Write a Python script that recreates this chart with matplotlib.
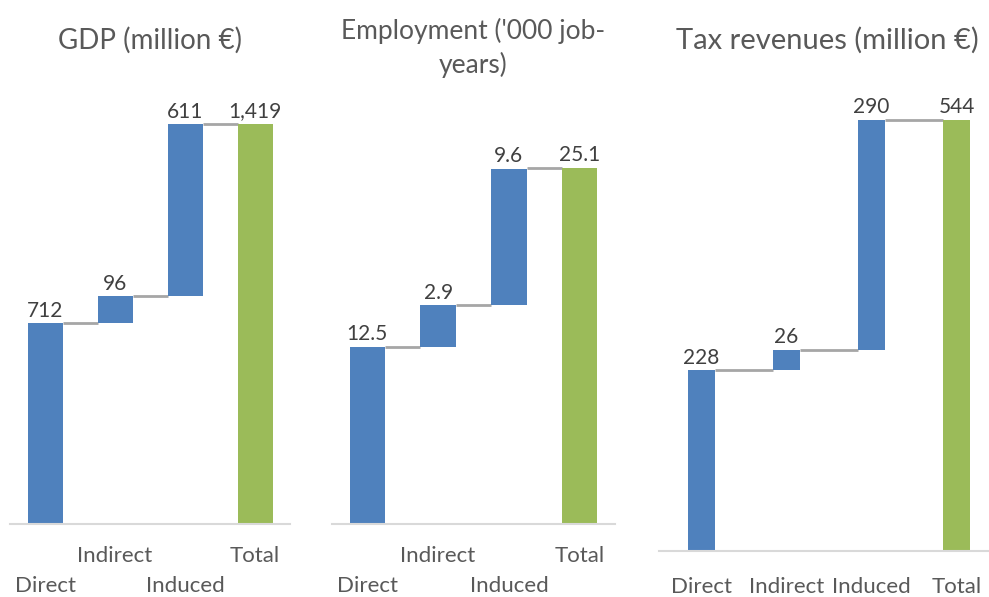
import matplotlib.pyplot as plt
import numpy as np

plt.rcParams['font.family'] = ['Lato', 'DejaVu Sans']

# values
steps = ['Direct', 'Indirect', 'Induced', 'Total']
gdp = [712, 96, 611, 1419]
gdp_lbl = ['712', '96', '611', '1,419']
emp = [12.5, 2.9, 9.6, 25.1]
emp_lbl = ['12.5', '2.9', '9.6', '25.1']
tax = [228, 26, 290, 544]
tax_lbl = ['228', '26', '290', '544']

W, H = 989, 597
fig = plt.figure(figsize=(W / 100, H / 100), dpi=100)

blue = '#4f81bd'
green = '#9bbb59'
grey_line = '#a6a6a6'
txt = '#404040'
ttl = '#595959'


def px_axes(x0, x1, ybase, ytop):
    # pixel box -> figure fraction
    return fig.add_axes([x0 / W, (H - ybase) / H, (x1 - x0) / W, (ybase - ytop) / H])


def waterfall(ax, vals, labels, ymax, width, stagger, pad=17):
    n = len(vals)
    x = np.arange(n)
    bottoms = []
    run = 0
    for v in vals[:-1]:
        bottoms.append(run)
        run += v
    bottoms.append(0)
    heights = list(vals[:-1]) + [vals[-1]]
    cols = [blue] * (n - 1) + [green]
    ax.bar(x, heights, bottom=bottoms, width=width, color=cols, zorder=2)
    # connectors
    for i in range(n - 1):
        lvl = bottoms[i] + heights[i]
        if i == n - 2:
            lvl = vals[-1] if abs(lvl - vals[-1]) < 0.5 else lvl
        ax.plot([x[i] + width / 2, x[i + 1] - width / 2], [lvl, lvl],
                color=grey_line, lw=2, solid_capstyle='butt', zorder=1)
    for i in range(n):
        top = bottoms[i] + heights[i]
        ax.text(x[i], top + ymax * 0.006, labels[i], ha='center', va='bottom',
                fontsize=15, color=txt)
    ax.set_xlim(-0.5, n - 0.5)
    ax.set_ylim(0, ymax)
    ax.set_xticks(x)
    if stagger:
        tl = ['\n' + s if i % 2 == 0 else s for i, s in enumerate(steps)]
    else:
        tl = steps
    ax.set_xticklabels(tl, fontsize=16, color=ttl, linespacing=1.6)
    ax.tick_params(axis='x', length=0, pad=pad)
    ax.set_yticks([])
    for s in ['top', 'left', 'right']:
        ax.spines[s].set_visible(False)
    ax.spines['bottom'].set_color('#d9d9d9')
    ax.spines['bottom'].set_linewidth(1.5)


ax1 = px_axes(10, 290, 524, 524 - 1600 * 0.2817)
waterfall(ax1, gdp, gdp_lbl, 1600, 0.5, True, pad=16)

ax2 = px_axes(332, 615, 524, 524 - 30 * 14.2)
waterfall(ax2, emp, emp_lbl, 30, 0.5, True, pad=16)

ax3 = px_axes(659, 999, 551, 551 - 600 * 0.792)
waterfall(ax3, tax, tax_lbl, 600, 0.32, False, pad=19)

fig.text(150 / W, 1 - 40 / H, 'GDP (million €)', ha='center', va='center',
         fontsize=20, color=ttl)
fig.text(473 / W, 1 - 48 / H, "Employment ('000 job-\nyears)", ha='center',
         va='center', fontsize=19, color=ttl, linespacing=1.4)
fig.text(827 / W, 1 - 40 / H, 'Tax revenues (million €)', ha='center',
         va='center', fontsize=21, color=ttl)

fig.savefig('out.png', dpi=100)
